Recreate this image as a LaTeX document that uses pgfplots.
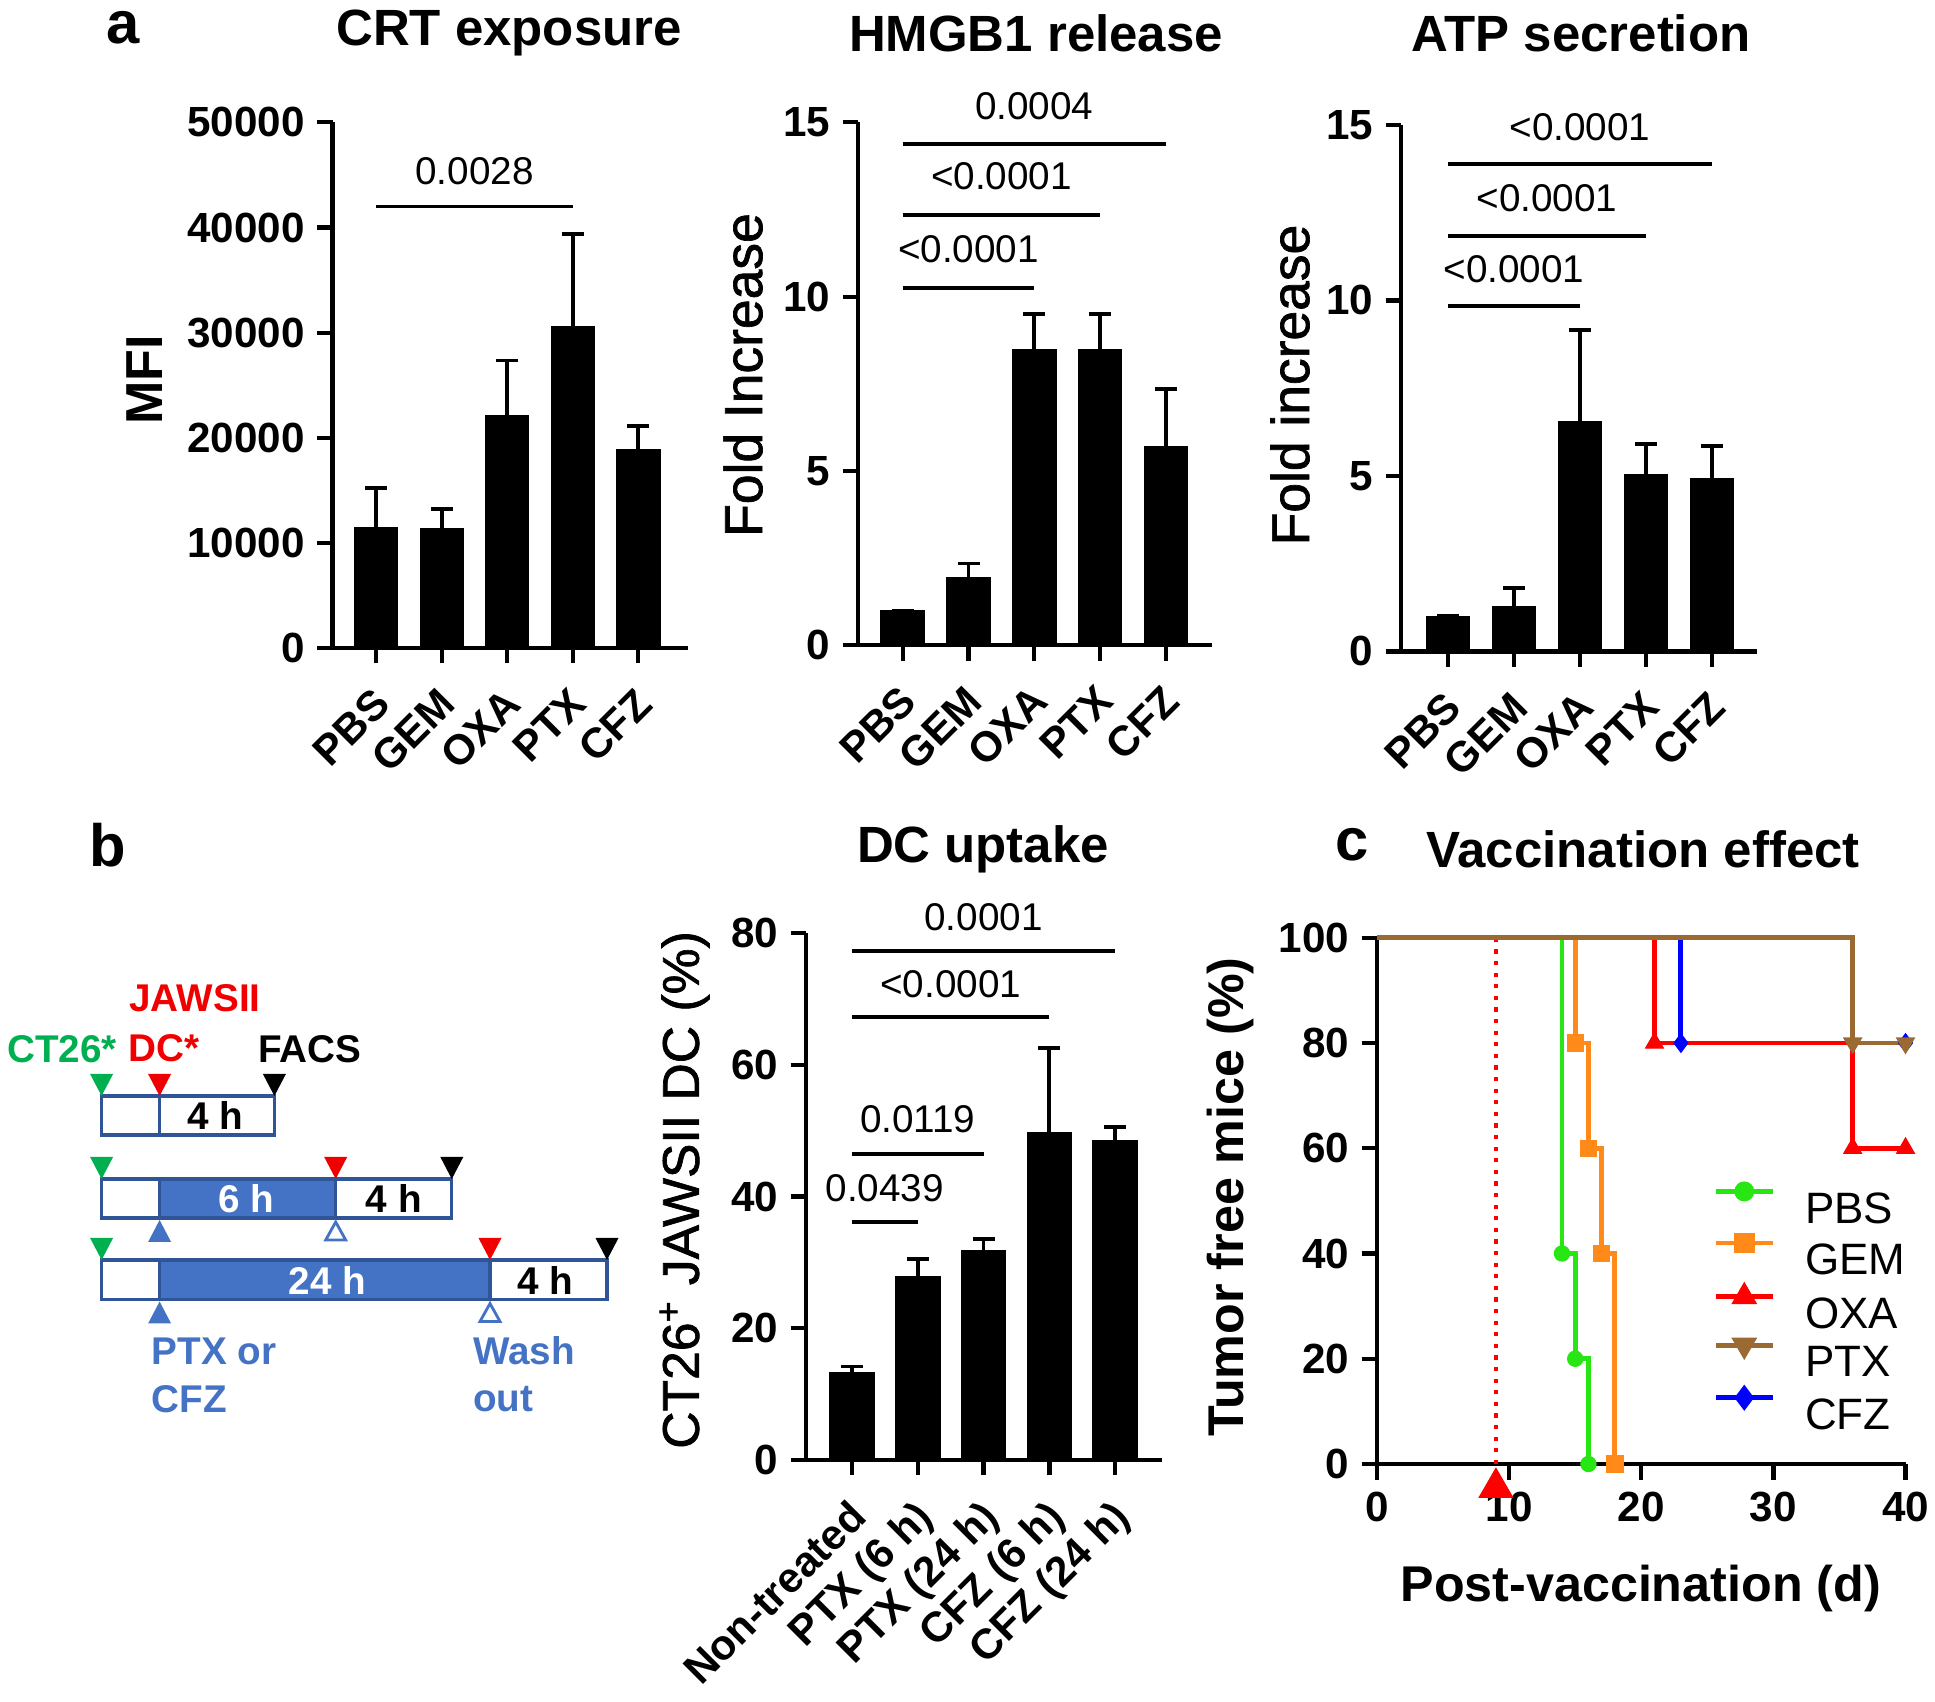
\documentclass[border=0pt]{standalone}
\usepackage{fontspec}
\setmainfont{Liberation Sans}
\newfontfamily\semib[FakeBold=1.3]{Liberation Sans}
\usepackage{pgfplots}
\pgfplotsset{compat=1.18}

\definecolor{pbs}{RGB}{40,230,20}
\definecolor{gem}{RGB}{255,137,25}
\definecolor{oxa}{RGB}{255,0,0}
\definecolor{ptx}{RGB}{155,105,50}
\definecolor{cfz}{RGB}{0,0,255}
\definecolor{schgreen}{RGB}{0,176,80}
\definecolor{schred}{RGB}{240,0,0}
\definecolor{schblue}{RGB}{68,114,196}
\definecolor{schdark}{RGB}{47,85,151}

\newcommand{\fs}[1]{\fontsize{#1}{#1}\selectfont}

\pgfplotsset{
  gp/.style={scale only axis, anchor=south west, clip=false,
    axis x line=bottom, axis y line=left,
    axis line style={-, line width=1.2pt},
    tick style={black, line width=1.2pt},
    tick align=outside, major tick length=1.55mm,
    ticklabel style={font=\fs{12}\bfseries},
    /pgf/number format/assume math mode=true,
    /pgf/number format/1000 sep={},
    scaled y ticks=false,
  },
  gpbar/.style={gp, ymin=0, xtick={0,...,4},
    xticklabels={PBS,GEM,OXA,PTX,CFZ},
    xticklabel style={rotate=45, anchor=north east, xshift=-2pt},
  },
  bars/.style={ybar, bar width=0.66, fill=black, draw=black, line width=0pt,
    error bars/y dir=plus, error bars/y explicit,
    error bars/error bar style={line width=1.1pt, black},
    error bars/error mark options={rotate=90, line width=1.1pt, black, mark size=1.1mm}},
  sig/.style={black, line width=1.1pt, no marks, forget plot},
  km/.style={const plot, line width=1.4pt, no marks, forget plot},
}
\tikzset{pv/.style={font=\fs{11}, inner sep=0pt},
  sch/.style={font=\fs{11}\bfseries, inner sep=0pt}}

\newcommand{\dtri}[3]{\fill[#3] ({#1-1.15},{#2+2.2}) -- ({#1+1.15},{#2+2.2}) -- (#1,#2) -- cycle;}
\newcommand{\utri}[2]{\fill[schblue] ({#1-1.15},{#2-2.2}) -- ({#1+1.15},{#2-2.2}) -- (#1,#2) -- cycle;}
\newcommand{\otri}[2]{\draw[schblue, line width=0.8pt, fill=white] ({#1-1.0},{#2-2.0}) -- ({#1+1.0},{#2-2.0}) -- (#1,{#2-0.2}) -- cycle;}

\begin{document}
\begin{tikzpicture}
\useasboundingbox (0,0) rectangle (193.5mm,170.1mm);

% ---- a: CRT exposure
\begin{axis}[gpbar, at={(33.26mm,105.3mm)}, width=35.49mm, height=52.56mm,
  xmin=-0.667, xmax=4.75, ymax=50000, ytick={0,10000,...,50000}]
\addplot[bars] coordinates {(0,11500) +- (0,3700) (1,11350) +- (0,1900)
  (2,22100) +- (0,5250) (3,30600) +- (0,8800) (4,18900) +- (0,2200)};
\addplot[sig] coordinates {(0,42000) (3,42000)};
\node[pv] at (1.5,45400) {0.0028};
\end{axis}

% ---- a: HMGB1 release
\begin{axis}[gpbar, at={(85.8mm,105.56mm)}, width=35.4mm, height=52.3mm,
  xmin=-0.679, xmax=4.70, ymax=15, ytick={0,5,10,15}]
\addplot[bars] coordinates {(0,1.0) +- (0,0) (1,1.95) +- (0,0.4)
  (2,8.5) +- (0,1.0) (3,8.5) +- (0,1.0) (4,5.7) +- (0,1.65)};
\addplot[sig] coordinates {(0,10.25) (2,10.25)};
\addplot[sig] coordinates {(0,12.34) (3,12.34)};
\addplot[sig] coordinates {(0,14.39) (4,14.39)};
\node[pv] at (1,11.35) {<0.0001};
\node[pv] at (1.5,13.45) {<0.0001};
\node[pv] at (2,15.45) {0.0004};
\end{axis}

% ---- a: ATP secretion
\begin{axis}[gpbar, at={(140.1mm,104.95mm)}, width=35.6mm, height=52.65mm,
  xmin=-0.712, xmax=4.68, ymax=15, ytick={0,5,10,15}]
\addplot[bars] coordinates {(0,1.0) +- (0,0) (1,1.27) +- (0,0.53)
  (2,6.55) +- (0,2.6) (3,5.05) +- (0,0.85) (4,4.93) +- (0,0.93)};
\addplot[sig] coordinates {(0,9.84) (2,9.84)};
\addplot[sig] coordinates {(0,11.83) (3,11.83)};
\addplot[sig] coordinates {(0,13.9) (4,13.9)};
\node[pv] at (1,10.9) {<0.0001};
\node[pv] at (1.5,12.9) {<0.0001};
\node[pv] at (2,14.95) {<0.0001};
\end{axis}

% ---- b: DC uptake
\begin{axis}[gp, at={(80.6mm,24.1mm)}, width=35.6mm, height=52.7mm,
  xmin=-0.696, xmax=4.71, ymin=0, ymax=80, ytick={0,20,...,80},
  xtick={0,...,4},
  xticklabels={Non-treated,PTX (6 h),PTX (24 h),CFZ (6 h),CFZ (24 h)},
  xticklabel style={rotate=45, anchor=north east, xshift=-2pt}]
\addplot[bars, bar width=0.68] coordinates {(0,13.3) +- (0,0.9) (1,27.9) +- (0,2.6)
  (2,31.8) +- (0,1.8) (3,49.7) +- (0,12.9) (4,48.5) +- (0,2.0)};
\addplot[sig] coordinates {(0,36.1) (1,36.1)};
\addplot[sig] coordinates {(0,46.5) (2,46.5)};
\addplot[sig] coordinates {(0,67.3) (3,67.3)};
\addplot[sig] coordinates {(0,77.3) (4,77.3)};
\node[pv] at (0.5,41.2) {0.0439};
\node[pv] at (1,51.7) {0.0119};
\node[pv] at (1.5,72.3) {<0.0001};
\node[pv] at (2,82.4) {0.0001};
\end{axis}

% ---- c: vaccination effect
\begin{axis}[gp, at={(137.7mm,23.7mm)}, width=52.85mm, height=52.62mm,
  xmin=0, xmax=40, ymin=0, ymax=100,
  xtick={0,10,...,40}, ytick={0,20,...,100},
  legend style={at={(axis cs:25.4,29.9)}, anchor=west, draw=none, fill=none,
    inner sep=0pt, font=\fs{12.5}, row sep=3.4pt,
    nodes={inner sep=0pt, text height=9pt, text depth=0pt},
    /tikz/every odd column/.append style={column sep=3.0mm}},
  legend cell align=left,
  legend image code/.code={\draw[#1, mark repeat=2, mark phase=2]
    plot coordinates {(0mm,4.5pt) (2.85mm,4.5pt) (5.7mm,4.5pt)};}]
\addlegendimage{pbs, line width=1.4pt, mark=*, mark size=0.75mm}
\addlegendimage{gem, line width=1.4pt, mark=square*, mark size=0.8mm}
\addlegendimage{oxa, line width=1.4pt, mark=triangle*, mark size=1.0mm}
\addlegendimage{ptx, line width=1.4pt, mark=triangle*, mark size=1.0mm, every mark/.append style={rotate=180}}
\addlegendimage{cfz, line width=1.4pt, mark=diamond*, mark size=0.9mm}
\addplot[oxa, dash pattern=on 1.2pt off 2.1pt, line width=1.3pt, forget plot] coordinates {(9,0) (9,100)};
\addplot[km, pbs] coordinates {(0,100) (14,40) (15,20) (16,0)};
\addplot[km, gem] coordinates {(0,100) (15,80) (16,60) (17,40) (18,0)};
\addplot[km, cfz] coordinates {(0,100) (23,80) (40,80)};
\addplot[km, oxa] coordinates {(0,100) (21,80) (36,60) (40,60)};
\addplot[km, ptx] coordinates {(0,100) (36,80) (40,80)};
\addplot[only marks, pbs, mark=*, mark size=0.75mm, forget plot] coordinates {(14,40) (15,20) (16,0)};
\addplot[only marks, gem, mark=square*, mark size=0.8mm, forget plot] coordinates {(15,80) (16,60) (17,40) (18,0)};
\addplot[only marks, cfz, mark=diamond*, mark size=0.9mm, forget plot] coordinates {(23,80) (40,80)};
\addplot[only marks, oxa, mark=triangle*, mark size=1.0mm, forget plot] coordinates {(21,80) (36,60) (40,60)};
\addplot[only marks, ptx, mark=triangle*, mark size=1.0mm, every mark/.append style={rotate=180}, forget plot] coordinates {(36,80) (40,80)};
\addplot[only marks, oxa, mark=triangle*, mark size=1.9mm, forget plot] coordinates {(9,-4.5)};
\legend{PBS,GEM,OXA,PTX,CFZ}
\end{axis}

% ---- titles, panel letters, axis labels
\node[font=\fs{17}\bfseries] at (12.3mm,167.3mm) {a};
\node[font=\fs{17}\bfseries] at (10.8mm,85.6mm) {b};
\node[font=\fs{17}\bfseries] at (135.2mm,85.6mm) {c};
\node[font=\fs{14.5}\bfseries] at (50.9mm,166.8mm) {CRT exposure};
\node[font=\fs{14.5}\bfseries] at (103.6mm,166.8mm) {HMGB1 release};
\node[font=\fs{14.5}\bfseries] at (158.1mm,166.8mm) {ATP secretion};
\node[font=\fs{14.5}\bfseries] at (98.3mm,85.2mm) {DC uptake};
\node[font=\fs{14.5}\bfseries] at (164.3mm,85.2mm) {Vaccination effect};
\node[font=\fs{14.8}\bfseries, rotate=90] at (14.5mm,132.1mm) {MFI};
\node[font=\fs{15.2}\semib, rotate=90] at (74.3mm,132.6mm) {Fold Increase};
\node[font=\fs{15.2}\semib, rotate=90] at (129.0mm,131.6mm) {Fold increase};
\node[font=\fs{14.7}\semib, rotate=90] at (68.46mm,51.1mm) {CT26\textsuperscript{+} JAWSII DC (\%)};
\node[font=\fs{14.3}\bfseries, rotate=90] at (123.05mm,50.4mm) {Tumor free mice (\%)};
\node[font=\fs{14.3}\bfseries] at (164.07mm,11.2mm) {Post-vaccination (d)};

% ---- b: schematic
\begin{scope}[x=1mm, y=1mm]
\fill[schblue] (15.96,48.3) rectangle (33.57,52.2);
\fill[schblue] (15.96,40.15) rectangle (49.0,44.1);
\draw[schdark, line width=0.9pt] (10.16,56.6) rectangle (27.44,60.5);
\draw[schdark, line width=0.9pt] (15.96,56.6) -- (15.96,60.5);
\draw[schdark, line width=0.9pt] (10.16,48.3) rectangle (45.18,52.2);
\draw[schdark, line width=0.9pt] (15.96,48.3) -- (15.96,52.2) (33.57,48.3) -- (33.57,52.2);
\draw[schdark, line width=0.9pt] (10.16,40.15) rectangle (60.7,44.1);
\draw[schdark, line width=0.9pt] (15.96,40.15) -- (15.96,44.1) (49.0,40.15) -- (49.0,44.1);
\dtri{10.16}{60.5}{schgreen} \dtri{15.96}{60.5}{schred} \dtri{27.44}{60.5}{black}
\dtri{10.16}{52.2}{schgreen} \dtri{33.57}{52.2}{schred} \dtri{45.18}{52.2}{black}
\dtri{10.16}{44.1}{schgreen} \dtri{49.0}{44.1}{schred} \dtri{60.7}{44.1}{black}
\utri{15.96}{48.1} \otri{33.57}{48.1}
\utri{15.96}{39.95} \otri{49.0}{39.95}
\node[sch, schgreen] at (6.2,65.2) {CT26*};
\node[sch, schred] at (19.5,70.3) {JAWSII};
\node[sch, schred] at (16.4,65.3) {DC*};
\node[sch] at (31.0,65.2) {FACS};
\node[sch] at (21.55,58.55) {4 h};
\node[sch, white] at (24.66,50.25) {6 h};
\node[sch] at (39.38,50.25) {4 h};
\node[sch, white] at (32.75,42.1) {24 h};
\node[sch] at (54.5,42.1) {4 h};
\node[sch, schblue, anchor=west] at (15.1,35.0) {PTX or};
\node[sch, schblue, anchor=west] at (15.1,30.2) {CFZ};
\node[sch, schblue, anchor=west] at (47.25,35.0) {Wash};
\node[sch, schblue, anchor=west] at (47.25,30.2) {out};
\end{scope}
\end{tikzpicture}
\end{document}
